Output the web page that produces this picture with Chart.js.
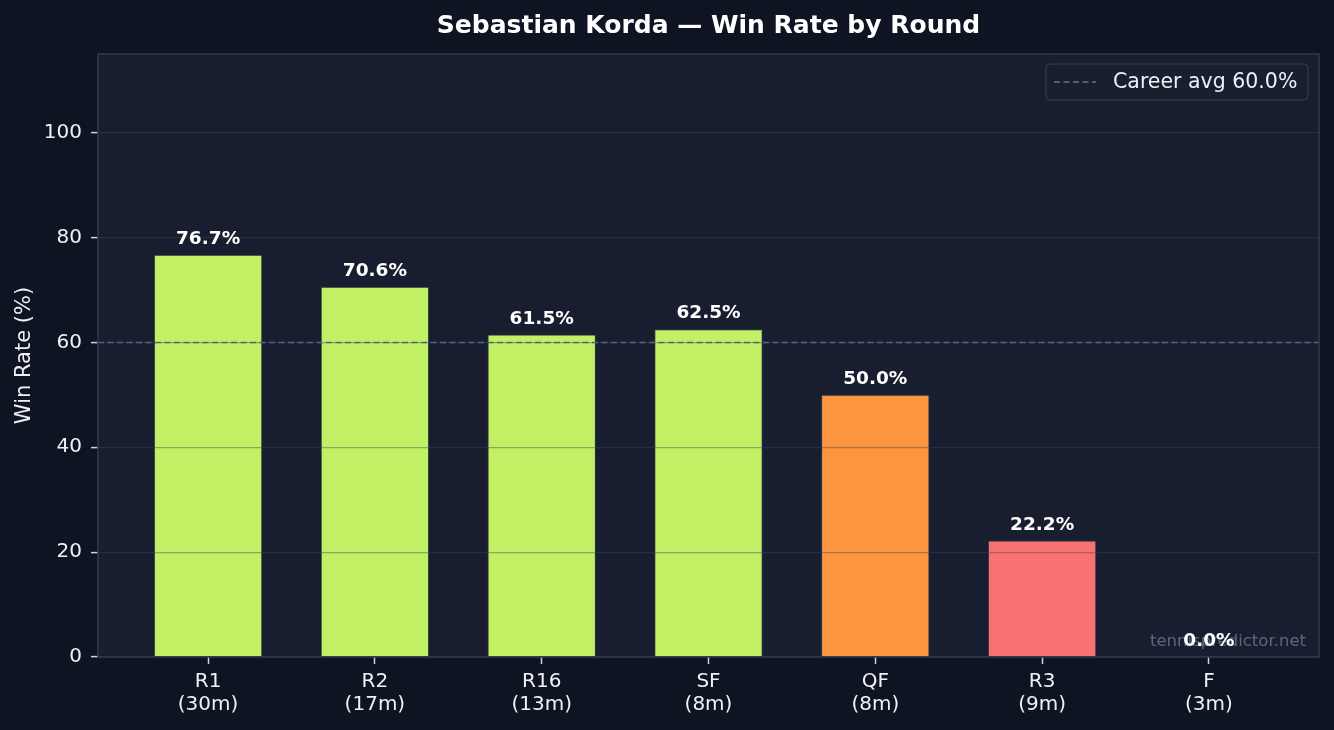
<!DOCTYPE html>
<html>
<head>
<meta charset="utf-8">
<script src="https://cdn.jsdelivr.net/npm/chart.js@4.4.1/dist/chart.umd.min.js"></script>
<style>
  html, body { margin: 0; padding: 0; background: #0e1421; }
  #wrap { width: 1334px; height: 730px; }
</style>
</head>
<body>
<div id="wrap"><canvas id="myChart" width="1334" height="730"></canvas></div>
<script>
// data
const rounds = ['R1', 'R2', 'R16', 'SF', 'QF', 'R3', 'F'];
const matches = ['30m', '17m', '13m', '8m', '8m', '9m', '3m'];
const winRates = [76.7, 70.6, 61.5, 62.5, 50.0, 22.2, 0.0];
const barColors = ['#c2f064', '#c2f064', '#c2f064', '#c2f064', '#fb953f', '#f87272', '#f87272'];
const careerAvg = 60.0;
const yTicks = [0, 20, 40, 60, 80, 100];

const titleText = 'Sebastian Korda \u2014 Win Rate by Round';
const legendText = 'Career avg ' + careerAvg.toFixed(1) + '%';
const watermark = 'tennispredictor.net';

const bgColor = '#0e1421';
const plotColor = '#181e2f';
const frameColor = '#2f3b4e';
const textColor = '#eef1f6';
const avgColor = '#64748b';
const FONT = "'DejaVu Sans', sans-serif";

var barData = [];
for (let i = 0; i < rounds.length; i++) {
    barData.push({x: i, y: winRates[i]});
}
var avgData = [{x: -0.66, y: careerAvg}, {x: rounds.length - 1 + 0.66, y: careerAvg}];

// background, frame, labels, legend, watermark
const decor = {
    id: 'decor',
    beforeDraw(chart) {
        let ctx = chart.ctx;
        let a = chart.chartArea;
        ctx.save();
        ctx.fillStyle = bgColor;
        ctx.fillRect(0, 0, chart.width, chart.height);
        ctx.fillStyle = plotColor;
        ctx.fillRect(a.left, a.top, a.right - a.left, a.bottom - a.top);
        ctx.restore();
    },
    afterDraw(chart) {
        let ctx = chart.ctx;
        let a = chart.chartArea;
        ctx.save();
        ctx.strokeStyle = frameColor;
        ctx.lineWidth = 1.5;
        ctx.strokeRect(a.left, a.top, a.right - a.left, a.bottom - a.top);

        // watermark
        ctx.font = '16.5px ' + FONT;
        ctx.fillStyle = 'rgba(148,163,184,0.55)';
        ctx.textAlign = 'right';
        ctx.textBaseline = 'alphabetic';
        ctx.fillText(watermark, a.right - 13, a.bottom - 11);

        // value labels
        let meta = chart.getDatasetMeta(1);
        ctx.font = 'bold 18.5px ' + FONT;
        ctx.fillStyle = '#ffffff';
        ctx.textAlign = 'center';
        meta.data.forEach((bar, i) => {
            ctx.fillText(winRates[i].toFixed(1) + '%', bar.x, bar.y - 11);
        });

        // legend
        let bx = a.right - 273, by = a.top + 10, bw = 262, bh = 36;
        ctx.beginPath();
        ctx.roundRect(bx, by, bw, bh, 4);
        ctx.fillStyle = 'rgba(24,31,47,0.9)';
        ctx.fill();
        ctx.strokeStyle = '#334155';
        ctx.lineWidth = 1;
        ctx.stroke();
        ctx.beginPath();
        ctx.setLineDash([6, 3.5]);
        ctx.strokeStyle = avgColor;
        ctx.lineWidth = 1.5;
        ctx.moveTo(bx + 8, by + bh / 2);
        ctx.lineTo(bx + 50, by + bh / 2);
        ctx.stroke();
        ctx.setLineDash([]);
        ctx.font = '20.5px ' + FONT;
        ctx.fillStyle = textColor;
        ctx.textAlign = 'left';
        ctx.textBaseline = 'middle';
        ctx.fillText(legendText, bx + 67, by + bh / 2 + 1);
        ctx.restore();
    }
};

const ctx = document.getElementById('myChart').getContext('2d');
const myChart = new Chart(ctx, {
    type: 'bar',
    data: {
        datasets: [
            {
                type: 'line',
                label: legendText,
                data: avgData,
                borderColor: avgColor,
                borderWidth: 1.5,
                borderDash: [6, 3.5],
                pointRadius: 0,
                fill: false,
                order: 0
            },
            {
                label: 'Win Rate',
                data: barData,
                backgroundColor: barColors,
                borderColor: '#2a3546',
                borderWidth: 1,
                categoryPercentage: 0.65,
                barPercentage: 1,
                order: 1
            }
        ]
    },
    options: {
        responsive: false,
        devicePixelRatio: 1,
        animation: false,
        layout: { padding: { left: 0, right: 15, top: 0, bottom: 0 } },
        plugins: {
            legend: { display: false },
            tooltip: { enabled: false },
            title: {
                display: true,
                text: titleText,
                fullSize: false,
                color: '#ffffff',
                font: { family: FONT, size: 25, weight: 'bold', lineHeight: 1.2 },
                padding: { top: 11, bottom: 13 }
            }
        },
        scales: {
            x: {
                type: 'linear',
                offset: false,
                min: -0.66,
                max: rounds.length - 1 + 0.66,
                afterBuildTicks: s => { s.ticks = rounds.map((r, i) => ({value: i})); },
                afterFit: s => { s.height = 73; },
                grid: { offset: false, drawOnChartArea: false, tickLength: 7, tickColor: '#cbd5e1', tickWidth: 1.5 },
                border: { display: false },
                ticks: {
                    color: textColor,
                    padding: 6,
                    maxRotation: 0,
                    autoSkip: false,
                    font: { family: FONT, size: 20, lineHeight: 1.15 },
                    callback: v => [rounds[v], '(' + matches[v] + ')']
                }
            },
            y: {
                min: 0,
                max: 115,
                afterBuildTicks: s => { s.ticks = yTicks.map(v => ({value: v})); },
                afterFit: s => { s.width = 98; },
                grid: { z: 1, color: 'rgba(58,72,92,0.42)', lineWidth: 1.2, tickLength: 7, tickColor: '#cbd5e1', tickWidth: 1.5 },
                border: { display: false },
                ticks: {
                    color: textColor,
                    padding: 9,
                    font: { family: FONT, size: 20 }
                },
                title: {
                    display: true,
                    text: 'Win Rate (%)',
                    color: textColor,
                    font: { family: FONT, size: 21, lineHeight: 1.2 },
                    padding: { top: 12, bottom: 0 }
                }
            }
        }
    },
    plugins: [decor]
});
</script>
</body>
</html>
